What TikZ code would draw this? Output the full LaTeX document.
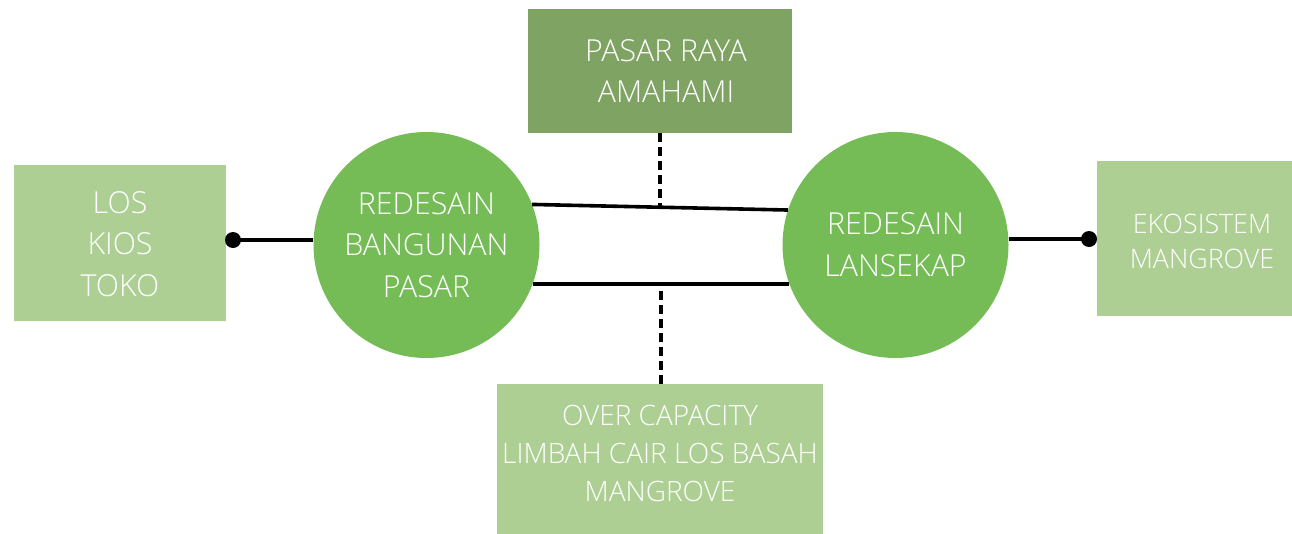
\documentclass[tikz,border=0pt]{standalone}
\usepackage{fontspec}
\setmainfont{Open Sans Light}
\definecolor{boxlight}{HTML}{AECF94}
\definecolor{boxdark}{HTML}{7FA362}
\definecolor{hub}{HTML}{75BC56}
\begin{document}
\begin{tikzpicture}[x=1pt,y=1pt,
  lbox/.style={fill=boxlight, draw=none, inner sep=0pt},
  dbox/.style={fill=boxdark, draw=none, inner sep=0pt},
  hubnode/.style={circle, fill=hub, draw=none, minimum size=226pt, inner sep=0pt},
  lbl/.style={text=white, align=center, inner sep=0pt},
  big/.style={font=\fontsize{30.3}{41.5}\selectfont},
  mid/.style={font=\fontsize{28}{38}\selectfont},
  small/.style={font=\fontsize{26.8}{35}\selectfont},
  link/.style={line width=3.6pt, black},
  tie/.style={line width=3.8pt, black, dash pattern=on 9pt off 5pt},
  knob/.style={circle, fill=black, minimum size=16pt, inner sep=0pt}]
\useasboundingbox (0,0) rectangle (1292,-533);

% boxes
\node[lbox, minimum width=212pt, minimum height=156pt] (los) at (120,-243) {};
\node[lbl, big] (lostxt) at (120,-244) {LOS\\KIOS\\TOKO};

\node[dbox, minimum width=264pt, minimum height=124pt] (pasar) at (660,-71) {};
\node[lbl, big] (pasartxt) at (666,-71) {PASAR RAYA\\AMAHAMI};

\node[lbox, minimum width=196pt, minimum height=155pt] (eko) at (1195,-238.5) {};
\node[lbl, small] (ekotxt) at (1202,-241) {EKOSISTEM\\MANGROVE};

\node[lbox, minimum width=326pt, minimum height=150pt] (over) at (660,-459) {};
\node[lbl, mid] (overtxt) at (660,-453) {OVER CAPACITY\\LIMBAH CAIR LOS BASAH\\MANGROVE};

% hubs
\node[hubnode] (bangunan) at (426.5,-245) {};
\node[lbl, big] (bangunantxt) at (426.5,-245) {REDESAIN\\BANGUNAN\\PASAR};
\node[hubnode] (lansekap) at (895.5,-245) {};
\node[lbl, big] (lansekaptxt) at (895.5,-244.5) {REDESAIN\\LANSEKAP};

% knobs at the outer boxes
\node[knob] (kl) at (233,-240) {};
\node[knob] (kr) at (1089,-239) {};

% connectors
\draw[link] (kl.center) -- (bangunan.west |- kl.center);
\draw[link] (lansekap.east |- kr.center) -- (kr.center);
\draw[link] (bangunan.21.4) -- coordinate[pos=0.49] (tj) (lansekap.162);
\draw[link] (bangunan.-20.8) -- coordinate[pos=0.5] (bj) (lansekap.200.7);
\draw[tie] (pasar.south) -- (pasar.south |- tj);
\draw[tie] (over.north -| bj) -- (bj);
\end{tikzpicture}
\end{document}
